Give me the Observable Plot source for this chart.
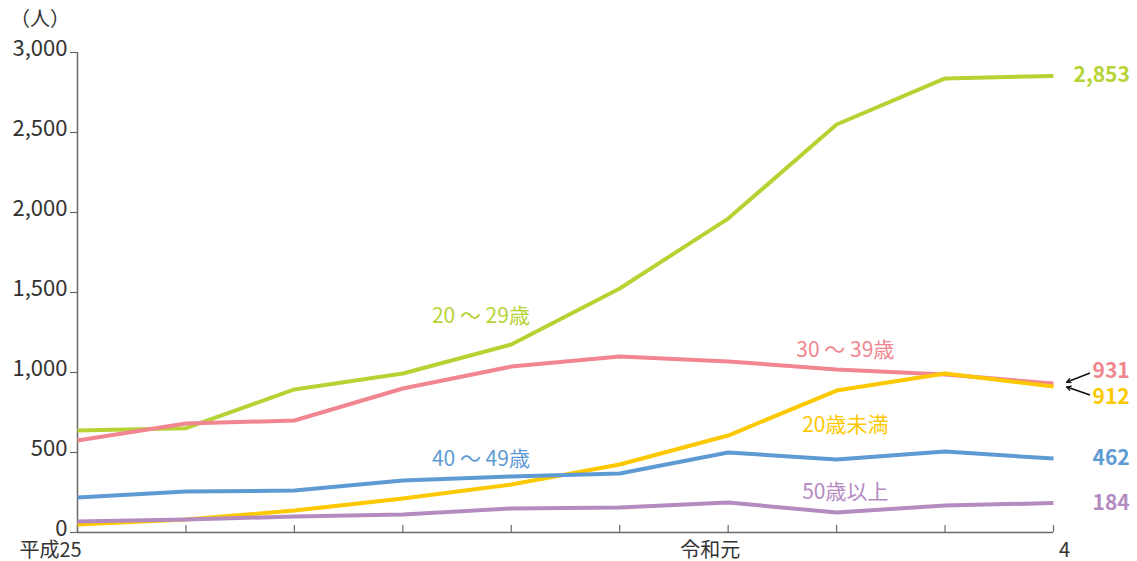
<!DOCTYPE html>
<html lang="ja">
<head>
<meta charset="utf-8">
<script src="https://cdn.jsdelivr.net/npm/d3@7"></script>
<script src="https://cdn.jsdelivr.net/npm/@observablehq/plot@0.6"></script>
<style>
  html, body { margin: 0; padding: 0; background: #fff; }
  #chart { position: relative; width: 1137px; height: 561px; }
  #unit { position: absolute; left: 10px; top: 3px; font: 20px "Noto Sans CJK JP", "Noto Sans", sans-serif; color: #333; }
</style>
</head>
<body>
<div id="chart"><div id="unit">（人）</div></div>
<script>
// Years 平成25 (2013) – 令和4 (2022)
const years = [2013, 2014, 2015, 2016, 2017, 2018, 2019, 2020, 2021, 2022];
const labelYears = [2013, 2019, 2022];
const labelTexts = ["平成25", "令和元", "4"];
const labelShift = [-27, -18, 11];
const yTicks = [0, 500, 1000, 1500, 2000, 2500, 3000];

// Counts by age group
const age20s   = [637, 652, 894, 994, 1175, 1525, 1962, 2550, 2838, 2853];
const age30s   = [575, 681, 700, 900, 1037, 1100, 1069, 1019, 987, 931];
const under20  = [50, 81, 137, 212, 300, 425, 606, 887, 994, 912];
const age40s   = [219, 256, 262, 325, 350, 369, 500, 456, 506, 462];
const over50   = [69, 81, 100, 112, 150, 156, 187, 125, 169, 184];

const seriesNames  = ["20 ～ 29歳", "30 ～ 39歳", "20歳未満", "40 ～ 49歳", "50歳以上"];
const seriesValues = [age20s, age30s, under20, age40s, over50];
const seriesColors = ["#b6d334", "#f18690", "#fcc800", "#5f9bd3", "#b48bc1"];
// Where each group's name sits (year, count)
const nameX = [2016.72, 2020.08, 2020.08, 2016.72, 2020.08];
const nameY = [1350, 1137, 669, 456, 250];
// Offsets (px) for the final-year value labels
const endDx = [20, 39, 39, 39, 39];
const endDy = [-1, -12, 11, 0, 0];

const rows = seriesNames.flatMap((name, i) =>
  years.map((year, j) => ({name, year, value: seriesValues[i][j], color: seriesColors[i]})));
const lastYear = years[years.length - 1];
const ends = seriesNames.map((name, i) => ({
  name, year: lastYear, value: seriesValues[i][years.length - 1],
  color: seriesColors[i], dx: endDx[i], dy: endDy[i]
}));
const names = seriesNames.map((name, i) => ({name, x: nameX[i], y: nameY[i], color: seriesColors[i]}));
const xLabels = labelYears.map((year, i) => ({year, text: labelTexts[i], dx: labelShift[i]}));

const font = '"Noto Sans CJK JP", "Noto Sans", sans-serif';
const axisColor = "#6a6a6a";

const plot = Plot.plot({
  width: 1137,
  height: 561,
  marginLeft: 77,
  marginRight: 84,
  marginTop: 52,
  marginBottom: 29,
  style: {fontFamily: font, background: "#fff", overflow: "visible"},
  x: {type: "linear", domain: [2013, 2022]},
  y: {domain: [0, 3000]},
  marks: [
    Plot.ruleY([0], {stroke: axisColor, strokeWidth: 1.5}),
    Plot.ruleX([2013], {y1: 0, y2: 3000, stroke: axisColor, strokeWidth: 1.5}),
    // y ticks, then their labels set slightly above each tick
    Plot.axisY({ticks: yTicks, tickSize: 7, tickFormat: () => "", stroke: axisColor, strokeWidth: 1.2, label: null}),
    Plot.axisY({ticks: yTicks, tickSize: 0, tickPadding: 10, tickFormat: d3.format(","),
      fontSize: 22, color: "#333", label: null, dy: -4}),
    Plot.axisX({ticks: years, tickSize: -7, tickFormat: () => "", stroke: axisColor, strokeWidth: 1.2, label: null}),
    // year labels under the axis, each nudged individually
    ...xLabels.map(d => Plot.text([d], {x: "year", y: 0, text: "text", fill: "#333",
      fontSize: 20, dx: d.dx, dy: 18})),
    Plot.line(rows, {x: "year", y: "value", z: "name", stroke: "color", strokeWidth: 4,
      strokeLinejoin: "round", strokeLinecap: "butt"}),
    Plot.text(names, {x: "x", y: "y", text: "name", fill: "color", fontSize: 21, textAnchor: "middle"}),
    ...ends.map(d => Plot.text([d], {x: "year", y: "value", text: e => d3.format(",")(e.value),
      fill: "color", fontSize: 21, fontWeight: "bold", textAnchor: "start", dx: d.dx, dy: d.dy}))
  ]
});

document.getElementById("chart").appendChild(plot);

// Pointer arrows from the stacked 931 / 912 labels to the line ends
const sx = plot.scale("x"), sy = plot.scale("y");
const svg = d3.select(plot);
const defs = svg.append("defs");
defs.append("marker").attr("id", "ah").attr("viewBox", "0 0 10 10").attr("refX", 8).attr("refY", 5)
  .attr("markerWidth", 6).attr("markerHeight", 6).attr("markerUnits", "userSpaceOnUse")
  .attr("orient", "auto")
  .append("path").attr("d", "M1,1L9,5L1,9").attr("fill", "none")
  .attr("stroke", "#111").attr("stroke-width", 2);
ends.filter(d => d.dy !== 0 && d.dx === 39).forEach(d => {
  const x0 = sx.apply(d.year), y0 = sy.apply(d.value);
  svg.append("line")
    .attr("x1", x0 + 37).attr("y1", y0 + (d.dy < 0 ? -10 : 9))
    .attr("x2", x0 + 14).attr("y2", y0 + (d.dy < 0 ? -1 : 1))
    .attr("stroke", "#111").attr("stroke-width", 1.6).attr("marker-end", "url(#ah)");
});
</script>
</body>
</html>
